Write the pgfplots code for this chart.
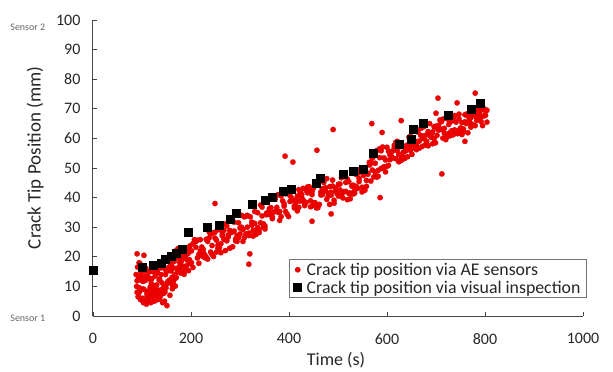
\documentclass[border=0pt]{standalone}
\usepackage{pgfplots}
\pgfplotsset{compat=1.18}
\usepackage{pgfplotstable}
\usepackage{fontspec}
\setmainfont{Carlito}
\definecolor{aered}{RGB}{242,0,0}
\definecolor{axgray}{RGB}{70,70,70}
\pgfplotstableread{
x y
90 8.0
90 11.9
93 7.6
93 12.8
96 17.6
96 8.5
99 13.3
99 12.0
102 9.1
102 11.7
105 15.2
105 16.5
108 13.5
108 16.1
111 8.1
111 6.8
114 8.3
114 14.8
117 9.8
117 12.4
120 7.4
120 12.6
123 10.2
123 8.9
126 9.0
126 15.5
129 9.2
129 7.9
132 14.6
132 17.2
135 12.2
135 5.7
138 8.5
138 16.3
141 16.4
141 11.2
144 7.6
144 18.0
147 15.9
147 8.1
150 15.0
150 19.0
153 11.7
153 19.5
156 19.9
156 12.1
159 17.8
159 15.2
162 10.5
162 9.2
165 16.2
165 20.1
168 12.7
168 10.1
171 22.3
171 19.7
174 16.3
174 22.8
177 16.7
177 18.0
180 18.3
180 22.3
183 15.7
183 16.7
186 14.1
186 21.1
189 22.5
189 15.5
192 20.9
192 18.9
195 15.3
195 21.3
198 17.7
198 23.7
201 22.0
201 18.0
204 16.4
204 24.4
207 25.8
207 25.2
210 25.2
210 23.2
213 19.6
213 25.6
216 17.8
216 20.8
219 22.0
219 25.8
222 20.3
222 23.3
225 21.5
225 22.5
228 20.7
228 19.7
231 19.9
231 25.9
234 19.2
234 25.2
237 26.4
237 28.4
240 27.6
240 21.6
243 20.8
243 23.8
246 28.1
246 20.1
249 28.3
249 26.3
252 25.6
252 21.6
255 23.9
255 22.9
258 29.1
258 23.1
261 24.4
261 21.4
264 27.6
264 27.1
267 25.9
267 28.9
270 22.1
270 31.1
273 25.4
273 30.4
276 26.7
276 27.4
279 28.9
279 22.9
282 32.2
282 28.2
285 28.4
285 23.4
288 28.7
288 31.7
291 26.0
291 25.4
294 27.2
294 25.2
297 31.5
297 26.5
300 29.7
300 27.7
303 30.0
303 34.0
306 29.2
306 25.2
309 33.5
309 26.5
312 27.7
312 33.7
315 30.0
315 34.0
318 27.2
318 28.0
321 27.5
321 33.5
324 30.7
324 31.7
327 27.0
327 29.0
330 35.3
330 31.3
333 28.6
333 27.6
336 29.9
336 34.9
339 28.2
339 29.2
342 37.5
342 31.5
345 36.8
345 33.8
348 31.1
348 30.1
351 30.4
351 29.4
354 34.7
354 34.2
357 35.0
357 39.0
360 36.3
360 34.3
363 34.6
363 36.6
366 32.9
366 33.5
369 40.1
369 35.1
372 39.4
372 40.4
375 36.7
375 35.7
378 41.0
378 35.0
381 32.3
381 35.3
384 40.6
384 33.6
387 41.9
387 38.9
390 37.1
390 37.9
393 35.3
393 41.3
396 41.4
396 34.4
399 33.6
399 42.6
402 40.7
402 38.7
405 39.9
405 39.2
408 39.0
408 43.0
411 37.2
411 36.5
414 38.3
414 39.3
417 40.5
417 35.5
420 36.7
420 42.7
423 38.8
423 41.8
426 40.0
426 41.0
429 39.1
429 43.1
432 37.3
432 38.3
435 38.4
435 42.4
438 43.6
438 41.6
441 42.7
441 43.7
444 38.9
444 36.9
447 42.0
447 41.0
450 38.2
450 43.2
453 37.3
453 38.3
456 36.5
456 37.5
459 45.6
459 36.6
462 45.7
462 37.7
465 40.9
465 41.9
468 43.0
468 41.0
471 45.1
471 42.1
474 43.3
474 42.6
477 46.4
477 39.4
480 40.5
480 41.5
483 43.7
483 37.7
486 40.8
486 41.8
489 45.9
489 43.9
492 39.1
492 38.1
495 42.2
495 43.2
498 42.3
498 41.3
501 40.5
501 44.5
504 44.6
504 42.6
507 46.7
507 40.7
510 39.9
510 41.9
513 42.0
513 48.0
516 42.1
516 45.1
519 39.3
519 46.3
522 41.4
522 45.4
525 39.6
525 41.6
528 43.9
528 48.9
531 41.2
531 44.2
534 41.5
534 42.5
537 47.8
537 43.8
540 48.1
540 43.1
543 45.4
543 46.4
546 49.7
546 48.7
549 41.9
549 43.5
552 48.2
552 47.5
555 42.5
555 48.5
558 45.8
558 43.8
561 48.2
561 47.9
564 51.9
564 51.0
567 45.6
567 51.6
570 49.3
570 53.3
573 54.0
573 47.0
576 51.6
576 48.6
579 46.9
579 55.9
582 49.2
582 47.2
585 56.5
585 53.5
588 49.8
588 55.8
591 50.1
591 57.1
594 50.4
594 53.4
597 52.7
597 48.7
600 57.0
600 50.6
603 55.7
603 50.9
606 54.4
606 52.8
609 55.5
609 53.9
612 53.4
612 55.8
615 56.9
615 57.7
618 58.7
618 53.1
621 55.8
621 59.0
624 52.1
624 54.5
627 57.2
627 52.4
630 52.7
630 53.5
633 53.7
633 55.3
636 55.6
636 53.2
639 57.5
639 55.9
642 53.8
642 57.8
645 57.2
645 60.4
648 60.7
648 55.9
651 54.6
651 57.8
654 59.7
654 59.0
657 59.1
657 56.7
660 56.2
660 57.8
663 62.1
663 58.9
666 56.7
666 59.1
669 61.0
669 63.4
672 60.5
672 57.3
675 63.9
675 59.9
678 57.8
678 61.0
681 58.1
681 59.0
684 62.3
684 57.5
687 65.0
687 61.0
690 60.4
690 61.2
693 58.2
693 62.2
696 63.9
696 59.9
699 64.1
699 58.5
702 61.0
702 63.4
705 62.8
705 64.4
708 63.0
708 66.2
711 63.1
711 65.6
714 60.1
714 66.5
717 63.4
717 61.8
720 59.6
720 66.8
723 61.4
723 60.6
726 66.3
726 64.7
729 60.9
729 62.0
732 65.8
732 62.6
735 66.8
735 61.2
738 67.7
738 62.9
741 62.3
741 65.5
744 61.6
744 62.5
747 66.6
747 68.2
750 63.5
750 61.9
753 61.3
753 65.3
756 62.3
756 63.2
759 68.0
759 65.6
762 65.0
762 68.2
765 61.9
765 67.5
768 65.3
768 66.0
771 67.0
771 63.8
774 64.8
774 68.0
777 69.7
777 69.0
780 67.5
780 64.3
783 68.5
783 66.1
786 70.2
786 67.0
789 68.0
789 68.8
792 65.7
792 67.3
795 64.3
795 69.9
798 70.0
798 67.6
801 69.4
801 67.8
804 65.5
804 69.5
88 14
89 10
91 16.5
92 6.5
94 18
95 9.5
97 5.5
98 14.5
100 17
101 6
103 4.5
104 9
106 5
107 12
109 4
110 7.5
112 5.5
113 13
115 6
116 9
118 4.5
119 11
121 6.5
122 15
124 9.5
125 5
127 13.5
128 7
130 10.5
131 5.5
133 16
134 8
136 12.5
137 6.5
139 14
140 9
142 4.5
145 10
146 5
148 14
149 9.5
151 3.5
152 11
155 16.5
157 7
158 12
160 17.5
161 13
164 11.5
166 18.5
167 14
170 13
172 20.5
173 15
176 19.5
179 14.5
182 20
185 16.5
188 19.5
191 17
194 23
197 19
90 21
104 20.5
249 38
318 17.5
320 21
392 54
408 52
447 32
457 56
486 34.5
490 63
569 65
586 40
590 62
629 66
700 68.5
704 73.6
712 48
743 72
759 59
780 75.3
}\aedata
\pgfplotstableread{
x y
0 15.5
100 16.5
122 17
139 18
147 19.3
159 20.3
170 21.3
182 22.6
194 28.4
233 30
257 30.8
280 32.8
292 34.8
325 37.8
351 39.2
365 40
388 42
404 42.9
455 45
463 46.6
510 48
531 49
551 49.7
571 55
624 58
649 59.8
653 63
673 65
725 68
771 70
790 72
}\visdata
\begin{document}
\begin{tikzpicture}
\path[use as bounding box] (-93pt,-56pt) rectangle (520pt,316pt);
\begin{axis}[
  scale only axis,
  width=490pt, height=296pt,
  xmin=0, xmax=1000, ymin=0, ymax=100,
  xtick={0,200,...,1000}, ytick={0,10,...,100},
  axis x line*=bottom, axis y line*=left,
  axis line style={axgray, line width=1pt},
  tick style={axgray, line width=0.8pt},
  tick align=inside, major tick length=4pt,
  /pgf/number format/assume math mode=true,
  /pgf/number format/1000 sep={},
  tick label style={font=\fontsize{16}{19}\selectfont, text=black!85},
  xticklabel style={yshift=-14pt},
  yticklabel style={xshift=-9pt},
  xlabel={Time (s)}, ylabel={Crack Tip Position (mm)},
  xlabel style={font=\fontsize{18}{21}\selectfont, text=black!85, at={(axis description cs:0.496,-0.149)}, anchor=center},
  ylabel style={font=\fontsize{19}{22}\selectfont, text=black!85, at={(axis description cs:-0.118,0.534)}, anchor=center},
  legend style={at={(axis description cs:1.008,0.061)}, anchor=south east,
    draw=black!55, line width=0.8pt, font=\fontsize{17.8}{20}\selectfont,
    inner xsep=4pt, inner ysep=1pt, row sep=0pt, text=black!85,
    /tikz/every odd column/.append style={column sep=3pt}},
  legend cell align=left,
  clip=false,
]
\addplot[only marks, mark=*, mark size=2.7pt, mark options={fill=aered, draw=aered!85!black, line width=0.2pt}] table[x=x,y=y] {\aedata};
\addlegendentry{Crack tip position via AE sensors}
\addplot[only marks, mark=square*, mark size=4pt, mark options={fill=black, draw=black}] table[x=x,y=y] {\visdata};
\addlegendentry{Crack tip position via visual inspection}
\node[font=\fontsize{10}{12}\selectfont, text=black!60] at (axis description cs:-0.133,0.975) {Sensor 2};
\node[font=\fontsize{10}{12}\selectfont, text=black!60] at (axis description cs:-0.133,-0.007) {Sensor 1};
\end{axis}
\end{tikzpicture}
\end{document}
